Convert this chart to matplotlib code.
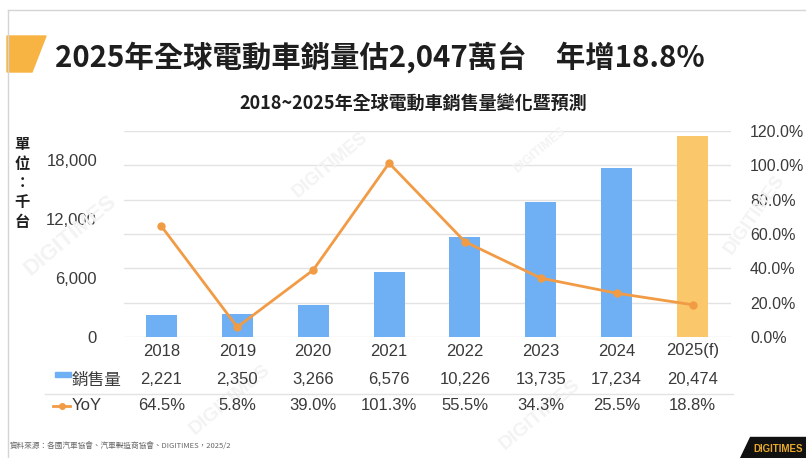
import matplotlib.pyplot as plt
import matplotlib.transforms as mtransforms
from matplotlib.patches import Polygon, Rectangle
from matplotlib.lines import Line2D

# data
years = ["2018", "2019", "2020", "2021", "2022", "2023", "2024", "2025(f)"]
sales = [2221, 2350, 3266, 6576, 10226, 13735, 17234, 20474]  # 千台
yoy = [64.5, 5.8, 39.0, 101.3, 55.5, 34.3, 25.5, 18.8]  # %

title = "2025年全球電動車銷量估2,047萬台　年增18.8%"
subtitle = "2018~2025年全球電動車銷售量變化暨預測"
unit_label = "單\n位\n：\n千\n台"
source = "資料來源：各國汽車協會、汽車製造商協會、DIGITIMES，2025/2"

BLUE = "#6FB0F4"
GOLD = "#FAC86A"
ORANGE = "#F29B45"
TXT = "#3A3A3A"
GRID = "#E3E3E3"

CJK = ["Noto Sans CJK TC", "DejaVu Sans"]
NUM = ["Liberation Sans", "Noto Sans CJK TC"]

W, H = 806, 458
fig = plt.figure(figsize=(W / 100, H / 100), dpi=100)


def fx(px):
    return px / W


def fy(py):
    return 1 - py / H


# slide frame
fig.add_artist(Line2D([fx(8), 1], [fy(10), fy(10)], color="#D5D5D5", lw=1))
fig.add_artist(Line2D([fx(8), fx(8)], [fy(10), 0], color="#D5D5D5", lw=1))

# title block
fig.add_artist(Polygon([(fx(7), fy(36)), (fx(46), fy(36)), (fx(32), fy(72)), (fx(7), fy(72))],
                       closed=True, color="#F7B443", transform=fig.transFigure))
fig.text(fx(55), fy(57), title, fontsize=21.2, fontweight="bold", family=CJK,
         color="#1E1E1E", va="center", ha="left")
fig.text(fx(413), fy(103), subtitle, fontsize=13, fontweight="bold", family=CJK,
         color="#1E1E1E", va="center", ha="center")

# faint watermarks
for (wx, wy, s, rot) in [(70, 235, 16, 40), (330, 165, 13, 40), (755, 215, 13, 55),
                         (230, 400, 14, 40), (540, 415, 14, 40), (540, 150, 9, 40)]:
    fig.text(fx(wx), fy(wy), "DIGITIMES", fontsize=s, fontweight="bold", color="#F3F3F3",
             rotation=rot, ha="center", va="center", family=NUM, zorder=0)

ax = fig.add_axes([fx(123.5), fy(337), fx(730.5) - fx(123.5), fy(131) - fy(337)])
ax.patch.set_alpha(0)
x = list(range(len(years)))
colors = [BLUE] * (len(years) - 1) + [GOLD]
ax.set_xlim(-0.5, len(years) - 0.5)
ax.set_ylim(0, 21000)
pct_ticks = list(range(0, 121, 20))
for v in pct_ticks:
    ax.axhline(v / 120 * 21000, color=GRID, lw=1, zorder=1)
ax.bar(x, sales, width=0.41, color=colors, zorder=2)
ax.set_yticks([0, 6000, 12000, 18000])
ax.set_yticklabels([f"{v:,}" for v in [0, 6000, 12000, 18000]], family=NUM, fontsize=12, color=TXT)
ax.set_xticks([])
ax.tick_params(axis="y", length=0, pad=19)
for sp in ax.spines.values():
    sp.set_visible(False)

ax2 = ax.twinx()
ax2.plot(x, yoy, color=ORANGE, lw=2, marker="o", ms=5, zorder=3)
ax2.set_ylim(0, 120)
ax2.set_yticks(pct_ticks)
ax2.set_yticklabels([f"{v:.1f}%" for v in pct_ticks], family=NUM, fontsize=11.5, color=TXT)
ax2.tick_params(axis="y", length=0, pad=14)
for sp in ax2.spines.values():
    sp.set_visible(False)

# unit label
fig.text(fx(22), fy(183), unit_label, fontsize=11, fontweight="bold", family=CJK,
         color="#1E1E1E", ha="center", va="center", linespacing=1.25)

# data table under the chart
tr = mtransforms.blended_transform_factory(ax.transData, fig.transFigure)
for i in x:
    fig.text(i, fy(351), years[i], transform=tr, ha="center", va="center",
             fontsize=12, family=NUM, color=TXT)
    fig.text(i, fy(379), f"{sales[i]:,}", transform=tr, ha="center", va="center",
             fontsize=12, family=NUM, color=TXT)
    fig.text(i, fy(406), f"{yoy[i]:.1f}%", transform=tr, ha="center", va="center",
             fontsize=12, family=NUM, color=TXT)

fig.add_artist(Line2D([fx(45), fx(733)], [fy(394), fy(394)], color=GRID, lw=1))
fig.add_artist(Rectangle((fx(55), fy(377)), fx(16), 5 / H, color=BLUE, transform=fig.transFigure))
fig.text(fx(72), fy(380), "銷售量", fontsize=12, family=CJK, color=TXT, ha="left", va="center")
fig.add_artist(Line2D([fx(53), fx(61.5), fx(70)], [fy(406)] * 3, color=ORANGE, lw=2,
                      marker="o", ms=4, markevery=[1], transform=fig.transFigure))
fig.text(fx(72), fy(406), "YoY", fontsize=12, family=NUM, color=TXT, ha="left", va="center")

# footer
fig.text(fx(10), fy(447), source, fontsize=5.5, family=CJK, color="#666666", ha="left", va="center")
fig.add_artist(Polygon([(fx(750), fy(437)), (1, fy(437)), (1, 0), (fx(740), 0)],
                       closed=True, color="#111111", transform=fig.transFigure))
fig.text(fx(778), fy(449), "DIGITIMES", fontsize=7, fontweight="bold", family=NUM,
         color="#E8A92A", ha="center", va="center")

fig.savefig("out.png", dpi=100)
